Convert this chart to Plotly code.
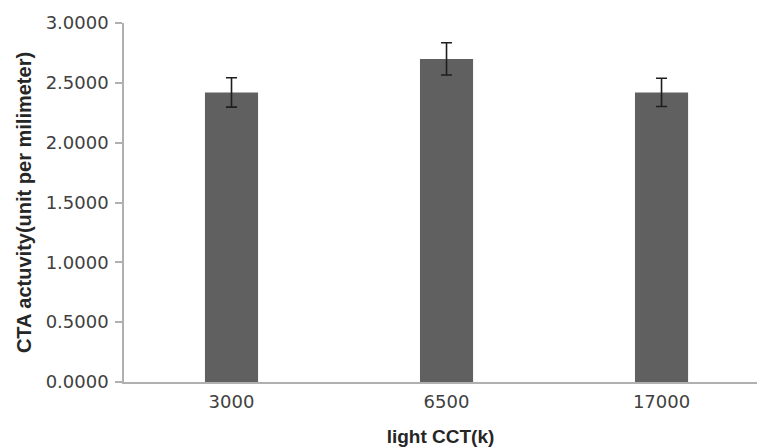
import plotly.graph_objects as go

categories = ["3000", "6500", "17000"]
values = [2.42, 2.70, 2.42]
errors = [0.123, 0.135, 0.118]
y_ticks = [0, 0.5, 1.0, 1.5, 2.0, 2.5, 3.0]

fig = go.Figure()
fig.add_trace(go.Bar(
    x=categories, y=values, width=0.247,
    marker=dict(color="#606060", line=dict(width=0)),
    error_y=dict(type="data", array=errors, visible=True,
                 color="#1e1e1e", thickness=1.6, width=5.5),
))

font_tick = dict(family="DejaVu Sans", size=18, color="#404040")
fig.update_layout(
    width=757, height=447,
    margin=dict(l=124, r=0, t=23, b=65),
    paper_bgcolor="white", plot_bgcolor="white",
    showlegend=False,
    xaxis=dict(
        type="category", range=[-0.5, 2.444],
        showline=True, linecolor="#b0b0b0", linewidth=1.5,
        ticks="", showgrid=False, tickfont=font_tick, ticklabelstandoff=3,
        title=dict(text="<b>light CCT(k)</b>", standoff=19,
                   font=dict(family="Liberation Sans", size=19, color="#262626")),
        automargin=False,
    ),
    yaxis=dict(
        range=[0, 3], tickvals=y_ticks, tickformat=".4f",
        showline=True, linecolor="#b0b0b0", linewidth=1.5,
        ticks="outside", ticklen=7, tickcolor="#b0b0b0", tickwidth=1.5,
        showgrid=False, zeroline=False, tickfont=font_tick, ticklabelstandoff=3,
        title=dict(text="<b>CTA actuvity(unit per milimeter)</b>", standoff=9,
                   font=dict(family="Liberation Sans", size=20, color="#262626")),
        automargin=False,
    ),
)
fig.write_html("out.html", config={"displayModeBar": False},
               post_script="document.body.style.margin='0';document.body.style.overflow='hidden';")
